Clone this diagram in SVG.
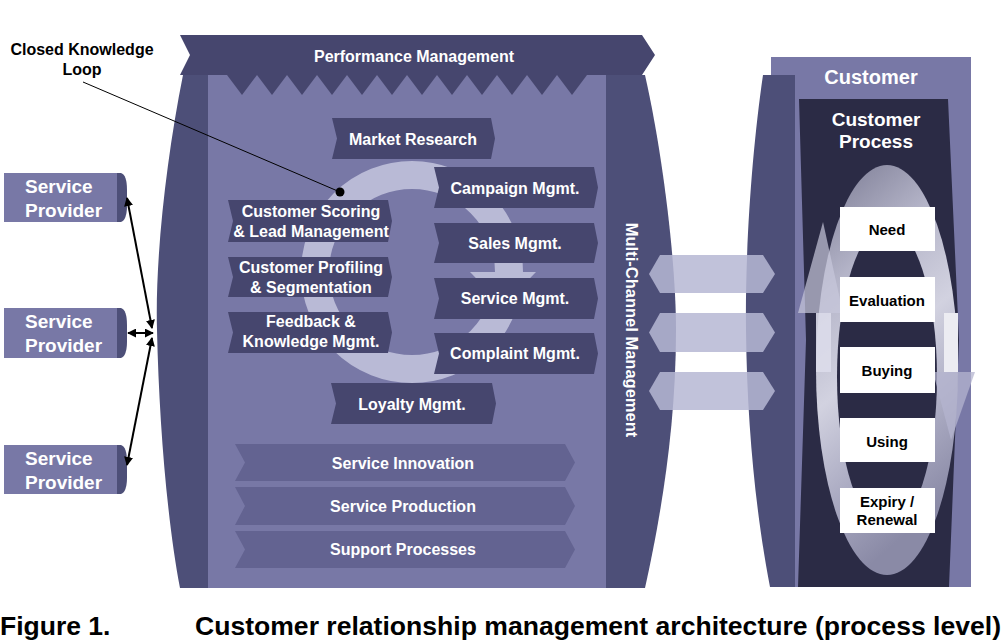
<svg xmlns="http://www.w3.org/2000/svg" width="1006" height="640" viewBox="0 0 1006 640">
<defs>
<style>
text{font-family:"Liberation Sans",Arial,Helvetica,sans-serif;font-weight:bold}
.w{fill:#ffffff}
.b{fill:#000000}
.c16{font-size:16px;text-anchor:middle}
.c15{font-size:15px;text-anchor:middle}
.box{fill:#46466e}
.lowbox{fill:#636391}
.bulge{fill:#4d4f78}
.panel{fill:#7878a6}
.chan{fill:#b6b7d3;fill-opacity:0.85}
.wbox{fill:#ffffff}
.sp{fill:#7878a6}
.cap{fill:#4d4f78}
.conn{stroke:#000;stroke-width:2;fill:none;marker-start:url(#ah);marker-end:url(#ah)}
</style>
<marker id="ah" viewBox="0 0 10 10" refX="9" refY="5" markerWidth="9" markerHeight="9" markerUnits="userSpaceOnUse" orient="auto-start-reverse">
<path d="M0,0 L10,5 L0,10 Z" fill="#000"/>
</marker>
<linearGradient id="ringGrad" x1="0" y1="0" x2="0.3" y2="1">
<stop offset="0" stop-color="#76768f"/>
<stop offset="0.3" stop-color="#b4b4c8"/>
<stop offset="0.55" stop-color="#d2d2e0"/>
<stop offset="0.8" stop-color="#a8a8c0"/>
<stop offset="1" stop-color="#8a8aa6"/>
</linearGradient>
</defs>

<!-- Main body -->
<g id="main-body">
<path class="bulge" d="M210,75 L183,75 C166,160 155,260 157,330 C159,420 167,520 180,588 L210,588 Z"/>
<rect class="panel" x="208" y="75" width="398" height="513"/>
<path class="bulge" d="M606,75 L645,75 C662,150 676,260 676,330 C676,430 660,520 645,588 L606,588 Z"/>
</g>

<g id="performance-management">
<polygon class="box" points="180,35 642,35 655,55 642,75 180,75 190,55"/>
<polygon class="box" points="227,75 587,75 572,95 557,75 542,95 527,75 512,95 497,75 482,95 467,75 452,95 437,75 422,95 407,75 392,95 377,75 362,95 347,75 332,95 317,75 302,95 287,75 272,95 257,75 242,95"/>
<text class="w c16" x="414" y="62">Performance Management</text>
</g>

<g id="knowledge-loop">
<circle cx="412" cy="272" r="97" fill="none" stroke="#b9bad6" stroke-width="28"/>
<polygon points="470,272 536,272 503,306" fill="#b9bad6"/>
</g>

<g id="market-research">
<polygon class="box" points="332,118 491,118 495,138.5 491,159 332,159 337,138.5"/>
<text class="w c16" x="413" y="145">Market Research</text>
</g>
<g id="customer-scoring">
<polygon class="box" points="228,200 388,200 392,221 388,242 228,242 233,221"/>
<text class="w c16" x="311" y="217">Customer Scoring</text>
<text class="w c16" x="311" y="237">&amp; Lead Management</text>
</g>
<g id="customer-profiling">
<polygon class="box" points="228,257 388,257 392,277 388,297 228,297 233,277"/>
<text class="w c16" x="311" y="273">Customer Profiling</text>
<text class="w c16" x="311" y="293">&amp; Segmentation</text>
</g>
<g id="feedback">
<polygon class="box" points="228,312 388,312 392,332.5 388,353 228,353 233,332.5"/>
<text class="w c16" x="311" y="327">Feedback &amp;</text>
<text class="w c16" x="311" y="347">Knowledge Mgmt.</text>
</g>
<g id="campaign">
<polygon class="box" points="434,167 594,167 598,187.5 594,208 434,208 439,187.5"/>
<text class="w c16" x="515" y="194">Campaign Mgmt.</text>
</g>
<g id="sales">
<polygon class="box" points="434,223 594,223 598,243 594,263 434,263 439,243"/>
<text class="w c16" x="515" y="249">Sales Mgmt.</text>
</g>
<g id="service-mgmt">
<polygon class="box" points="434,278 594,278 598,298.5 594,319 434,319 439,298.5"/>
<text class="w c16" x="515" y="304">Service Mgmt.</text>
</g>
<g id="complaint">
<polygon class="box" points="434,333 594,333 598,353.5 594,374 434,374 439,353.5"/>
<text class="w c16" x="515" y="359">Complaint Mgmt.</text>
</g>
<g id="loyalty">
<polygon class="box" points="331,383 492,383 496,403.5 492,424 331,424 336,403.5"/>
<text class="w c16" x="412" y="410">Loyalty Mgmt.</text>
</g>

<g id="service-innovation">
<polygon class="lowbox" points="235,444 565,444 575,462.5 565,481 235,481 245,462.5"/>
<text class="w c16" x="403" y="469">Service Innovation</text>
</g>
<g id="service-production">
<polygon class="lowbox" points="235,487 565,487 575,506 565,525 235,525 245,506"/>
<text class="w c16" x="403" y="512">Service Production</text>
</g>
<g id="support-processes">
<polygon class="lowbox" points="235,531 565,531 575,549.5 565,568 235,568 245,549.5"/>
<text class="w c16" x="403" y="555">Support Processes</text>
</g>

<g id="multi-channel">
<text class="w" font-size="16.5" text-anchor="middle" transform="translate(626,330) rotate(90)" x="0" y="0">Multi-Channel Management</text>
</g>

<!-- Customer -->
<g id="customer">
<rect class="panel" x="771" y="57" width="200" height="530"/>
<path class="bulge" d="M795,75 L763,75 C752,150 745,250 746,330 C747,430 757,520 770,587 L795,587 Z"/>
<text class="w" x="871" y="84" font-size="20" text-anchor="middle">Customer</text>
</g>

<g id="customer-process">
<polygon fill="#2b2b45" points="799,99 948,99 959,340 949,587 798,587 806,340"/>
<text class="w" x="876" y="126" font-size="19" text-anchor="middle">Customer</text>
<text class="w" x="876" y="148" font-size="19" text-anchor="middle">Process</text>
<ellipse cx="887" cy="370" rx="71" ry="205" fill="url(#ringGrad)"/>
<ellipse cx="887" cy="377" rx="50" ry="152" fill="#2b2b45"/>
<polygon points="823,222 798,313 843,313" fill="#c8c8dc" fill-opacity="0.7"/>
<rect x="816" y="313" width="15" height="59" fill="#dcdcea" fill-opacity="0.9"/>
<rect x="944" y="313" width="14" height="59" fill="#ececf2"/>
<polygon points="933,372 975,372 951,440" fill="#b4b4cf" fill-opacity="0.75"/>
</g>

<g id="need">
<rect class="wbox" x="840" y="207" width="95" height="44"/>
<text class="b c15" x="887" y="235">Need</text>
</g>
<g id="evaluation">
<rect class="wbox" x="840" y="277" width="95" height="45"/>
<text class="b c15" x="887" y="306">Evaluation</text>
</g>
<g id="buying">
<rect class="wbox" x="840" y="347" width="95" height="46"/>
<text class="b c15" x="887" y="376">Buying</text>
</g>
<g id="using">
<rect class="wbox" x="840" y="418" width="95" height="44"/>
<text class="b c15" x="887" y="447">Using</text>
</g>
<g id="expiry">
<rect class="wbox" x="840" y="488" width="95" height="45"/>
<text class="b c15" x="887" y="507">Expiry /</text>
<text class="b c15" x="887" y="525">Renewal</text>
</g>

<!-- Service providers -->
<g id="sp1">
<rect class="sp" x="4" y="173" width="114" height="49"/>
<path class="cap" d="M117,173 L121,173 Q127,175 127,190 L127,205 Q127,220 121,222 L117,222 Z"/>
<text class="w" x="25" y="193" font-size="19">Service</text>
<text class="w" x="25" y="217" font-size="19">Provider</text>
</g>
<g id="sp2">
<rect class="sp" x="4" y="308" width="114" height="50"/>
<path class="cap" d="M117,308 L121,308 Q127,310 127,325 L127,341 Q127,356 121,358 L117,358 Z"/>
<text class="w" x="25" y="328" font-size="19">Service</text>
<text class="w" x="25" y="352" font-size="19">Provider</text>
</g>
<g id="sp3">
<rect class="sp" x="4" y="445" width="114" height="49"/>
<path class="cap" d="M117,445 L121,445 Q127,447 127,462 L127,477 Q127,492 121,494 L117,494 Z"/>
<text class="w" x="25" y="465" font-size="19">Service</text>
<text class="w" x="25" y="489" font-size="19">Provider</text>
</g>

<g id="connectors">
<line class="conn" x1="152" y1="328" x2="127" y2="198"/>
<line class="conn" x1="153" y1="333" x2="128" y2="333"/>
<line class="conn" x1="152" y1="338" x2="127" y2="465"/>
<polygon class="chan" points="649,274 660,255 763,255 775,274 763,293 660,293"/>
<polygon class="chan" points="649,332.5 660,313 763,313 775,332.5 763,352 660,352"/>
<polygon class="chan" points="649,391 660,372 763,372 775,391 763,410 660,410"/>
<line x1="83" y1="82" x2="340" y2="192" stroke="#000" stroke-width="1"/>
<circle cx="340" cy="192" r="4.5" fill="#000"/>
</g>

<g id="label-loop">
<text class="b" x="82" y="55" font-size="16" text-anchor="middle">Closed Knowledge</text>
<text class="b" x="82" y="75" font-size="16" text-anchor="middle">Loop</text>
</g>

<g id="caption">
<text class="b" x="0" y="635" font-size="26.5">Figure 1.</text>
<text class="b" x="195" y="635" font-size="26.5" textLength="806" lengthAdjust="spacingAndGlyphs">Customer relationship management architecture (process level)</text>
</g>
</svg>
